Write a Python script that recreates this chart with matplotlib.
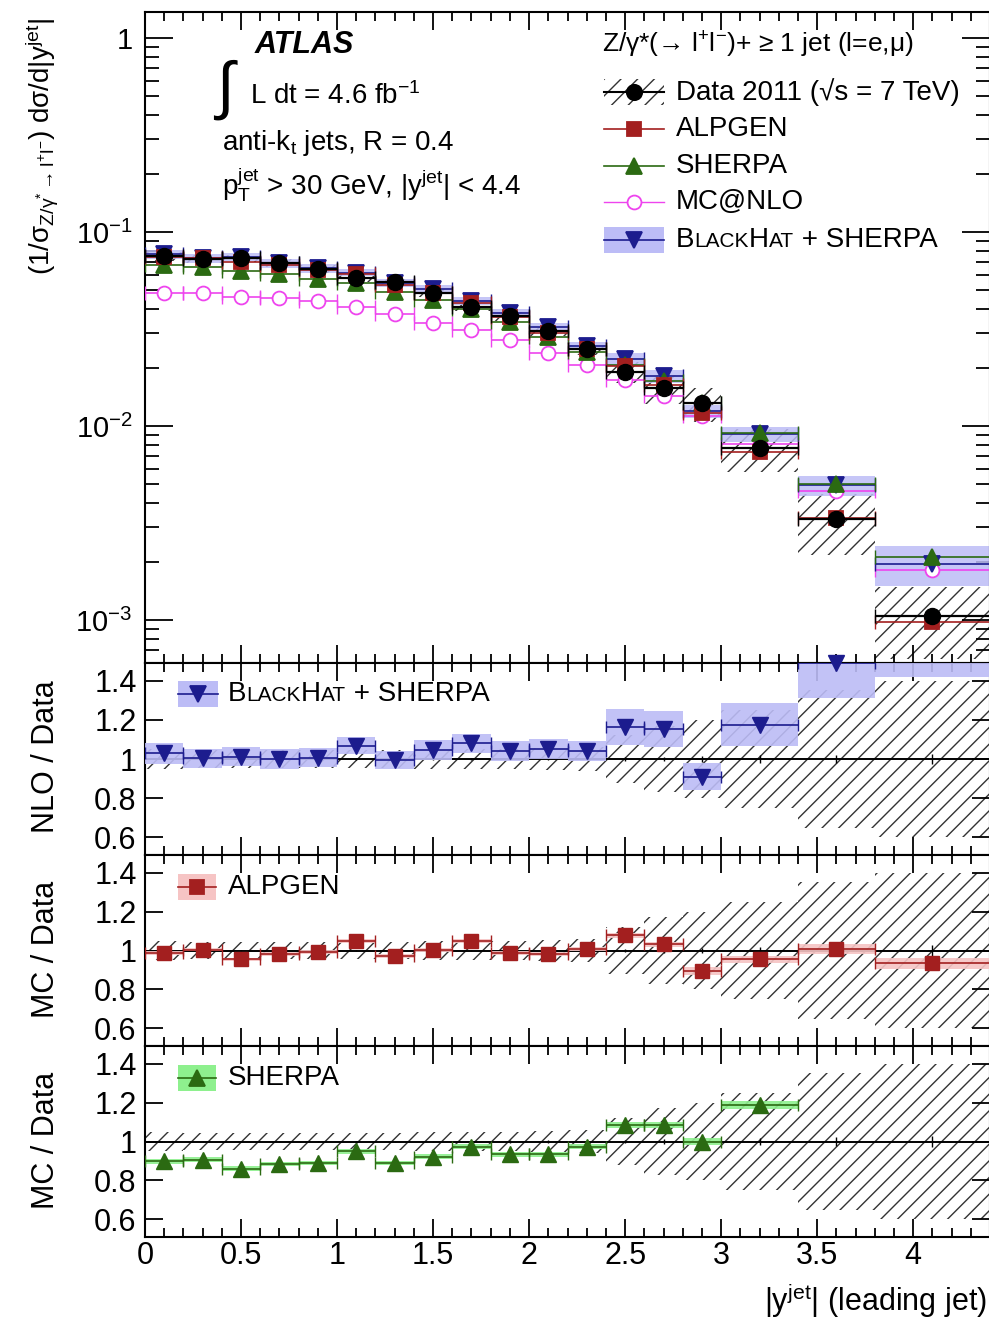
import numpy as np
import matplotlib
matplotlib.use('Agg')
import matplotlib.pyplot as plt
from matplotlib.lines import Line2D
from matplotlib.patches import Rectangle
from matplotlib.offsetbox import TextArea, HPacker, AnnotationBbox
from matplotlib.ticker import FixedLocator, MultipleLocator, FuncFormatter, LogLocator, NullFormatter

plt.rcParams['font.family'] = ['Liberation Sans', 'DejaVu Sans']
plt.rcParams['mathtext.fontset'] = 'custom'
plt.rcParams['mathtext.rm'] = 'Liberation Sans'
plt.rcParams['mathtext.it'] = 'Liberation Sans:italic'
plt.rcParams['mathtext.bf'] = 'Liberation Sans:bold'
plt.rcParams['mathtext.default'] = 'regular'
plt.rcParams['hatch.linewidth'] = 1.0

# |y| bins of the leading jet
bin_edges = [0.0, 0.2, 0.4, 0.6, 0.8, 1.0, 1.2, 1.4, 1.6, 1.8, 2.0, 2.2, 2.4,
             2.6, 2.8, 3.0, 3.4, 3.8, 4.4]

# normalised cross section, data 2011
data_xs = [0.0748, 0.0728, 0.0732, 0.0690, 0.0644, 0.0577, 0.0550, 0.0484,
           0.0410, 0.0367, 0.0308, 0.0248, 0.0190, 0.0157, 0.0131, 0.00771,
           0.00332, 0.00105]
data_err = [0.05, 0.045, 0.045, 0.045, 0.045, 0.045, 0.045, 0.05, 0.05, 0.05,
            0.055, 0.06, 0.12, 0.17, 0.20, 0.25, 0.35, 0.40]
data_stat = [0.004, 0.004, 0.004, 0.004, 0.004, 0.005, 0.005, 0.005, 0.005,
             0.006, 0.006, 0.007, 0.01, 0.012, 0.015, 0.018, 0.022, 0.028]

# predictions / data
alpgen_ratio = [0.988, 1.005, 0.954, 0.983, 0.991, 1.048, 0.974, 1.002, 1.051,
                0.988, 0.983, 1.009, 1.077, 1.031, 0.894, 0.954, 1.009, 0.934]
alpgen_unc = [0.01, 0.01, 0.01, 0.01, 0.01, 0.01, 0.01, 0.01, 0.01, 0.01,
              0.01, 0.01, 0.015, 0.015, 0.02, 0.02, 0.025, 0.03]
sherpa_ratio = [0.898, 0.906, 0.860, 0.884, 0.889, 0.949, 0.889, 0.923, 0.974,
                0.935, 0.935, 0.974, 1.085, 1.085, 1.000, 1.187, 1.52, 2.00]
sherpa_unc = [0.012, 0.012, 0.012, 0.012, 0.012, 0.012, 0.012, 0.012, 0.012,
              0.012, 0.012, 0.012, 0.015, 0.015, 0.02, 0.02, 0.025, 0.03]
blackhat_ratio = [1.029, 1.003, 1.012, 1.000, 1.007, 1.068, 0.995, 1.046, 1.080,
                  1.041, 1.051, 1.041, 1.164, 1.153, 0.910, 1.176, 1.49, 1.85]
blackhat_unc = [0.055, 0.05, 0.05, 0.05, 0.05, 0.045, 0.045, 0.05, 0.05, 0.05,
                0.05, 0.05, 0.09, 0.09, 0.07, 0.11, 0.18, 0.43]

# MC@NLO only shown in the top panel
mcnlo_xs = [0.0487, 0.0487, 0.0464, 0.0455, 0.0442, 0.0412, 0.0377, 0.0341,
            0.0313, 0.0278, 0.0238, 0.0205, 0.0173, 0.0142, 0.0112, 0.0081,
            0.0046, 0.00181]

W, H = 989, 1321
RATIO_LIM = (0.51, 1.49)

HATCH = '#333333'
RED = '#a31f1f'
RED_BAND = '#f6c4c4'
GREEN = '#2b6a12'
GREEN_BAND = '#8ef08e'
NAVY = '#1c1c8e'
BLUE_BAND = '#bcbcf6'
MAGENTA = '#ee44ee'

edges = np.array(bin_edges)
centers = 0.5 * (edges[1:] + edges[:-1])
half = 0.5 * np.diff(edges)
data = np.array(data_xs)
derr = np.array(data_err)


def fx(px):
    return px / float(W)


def fy(py):
    return 1.0 - py / float(H)


def style_axis(ax, log=False):
    for sp in ax.spines.values():
        sp.set_linewidth(1.5)
    ax.set_xlim(0, 4.4)
    ax.xaxis.set_major_locator(MultipleLocator(0.5))
    ax.xaxis.set_minor_locator(MultipleLocator(0.1))
    ax.tick_params(which='both', direction='in', top=True, right=True, width=1.3)
    ax.tick_params(axis='x', which='major', length=13)
    ax.tick_params(axis='x', which='minor', length=6.5)
    if log:
        ax.tick_params(axis='y', which='major', length=20, labelsize=21, pad=9)
        ax.tick_params(axis='y', which='minor', length=10)
    else:
        ax.tick_params(axis='y', which='major', length=13, labelsize=22, pad=6)
        ax.tick_params(axis='y', which='minor', length=0)
    ax.tick_params(axis='x', labelsize=22, pad=3)


def hatch_band(ax, lo, hi, zorder=1):
    ax.bar(centers, hi - lo, bottom=lo, width=2 * half, fill=False, hatch='//',
           edgecolor=HATCH, linewidth=0, zorder=zorder)


def draw_top(ax):
    ax.set_yscale('log')
    hatch_band(ax, data * (1 - derr), data * (1 + derr))

    bh = data * np.array(blackhat_ratio)
    bh_band = data * np.array(blackhat_unc)
    ax.bar(centers, 2 * bh_band, bottom=bh - bh_band, width=2 * half,
           color=BLUE_BAND, alpha=0.85, linewidth=0, zorder=2)

    series = [
        (np.array(mcnlo_xs), MAGENTA, 'o', 10, 'white'),
        (bh, NAVY, 'v', 11, NAVY),
        (data * np.array(sherpa_ratio), GREEN, '^', 11, GREEN),
        (data * np.array(alpgen_ratio), RED, 's', 9.5, RED),
    ]
    for vals, col, mk, ms, mfc in series:
        ax.errorbar(centers, vals, xerr=half, fmt='none', ecolor=col,
                    elinewidth=1.2, capsize=5, zorder=3)
        ax.plot(centers, vals, ls='none', marker=mk, ms=ms, color=col,
                mfc=mfc, mec=col, mew=1.3, zorder=4)

    ax.errorbar(centers, data, xerr=half, fmt='none', ecolor='black',
                elinewidth=1.6, capsize=5, zorder=5)
    ax.plot(centers, data, ls='none', marker='o', ms=11.5, color='black', zorder=6)

    ax.set_ylim(6.0e-4, 1.36)
    ax.yaxis.set_major_locator(FixedLocator([1e-3, 1e-2, 1e-1, 1.0]))
    ax.yaxis.set_minor_locator(LogLocator(base=10, subs=np.arange(2, 10)))
    ax.yaxis.set_minor_formatter(NullFormatter())
    ax.yaxis.set_major_formatter(FuncFormatter(
        lambda v, p: '1' if v == 1.0 else '10$^{%d}$' % int(round(np.log10(v)))))
    style_axis(ax, log=True)
    ax.tick_params(axis='x', labelbottom=False)


def draw_ratio(ax, ratio, unc, col, band_col, mk, ms, last=False):
    ratio = np.array(ratio)
    unc = np.array(unc)
    hatch_band(ax, 1 - derr, 1 + derr)
    ax.axhline(1.0, color='black', lw=1.4, zorder=2)
    ax.errorbar(centers, np.ones_like(centers), yerr=data_stat, fmt='none',
                ecolor='black', elinewidth=1.0, zorder=2)
    ax.bar(centers, 2 * unc, bottom=ratio - unc, width=2 * half,
           color=band_col, alpha=0.9, linewidth=0, zorder=3)
    keep = ratio <= RATIO_LIM[1]
    ax.errorbar(centers[keep], ratio[keep], xerr=half[keep], fmt='none',
                ecolor=col, elinewidth=1.2, capsize=4, zorder=4)
    ax.plot(centers[keep], ratio[keep], ls='none', marker=mk, ms=ms,
            color=col, zorder=5, clip_on=False)
    ax.set_ylim(*RATIO_LIM)
    ax.yaxis.set_major_locator(FixedLocator([0.6, 0.8, 1.0, 1.2, 1.4]))
    ax.yaxis.set_major_formatter(FuncFormatter(lambda v, p: '%g' % v))
    style_axis(ax)
    ax.xaxis.set_major_formatter(FuncFormatter(lambda v, p: '%g' % v))
    if not last:
        ax.tick_params(axis='x', labelbottom=False)


def legend_entry(fig, x0, x1, y, col, mk, ms, mfc='auto', lw=1.2,
                 band=None, band_h=13, hatch=False):
    if hatch:
        fig.add_artist(Rectangle((fx(x0), fy(y + band_h)), fx(x1) - fx(x0),
                                 fy(y - band_h) - fy(y + band_h),
                                 transform=fig.transFigure, fill=False,
                                 hatch='//', edgecolor=HATCH, linewidth=0))
    if band is not None:
        fig.add_artist(Rectangle((fx(x0), fy(y + band_h)), fx(x1) - fx(x0),
                                 fy(y - band_h) - fy(y + band_h),
                                 transform=fig.transFigure, color=band,
                                 linewidth=0))
    fig.add_artist(Line2D([fx(x0), fx(x1)], [fy(y), fy(y)], color=col, lw=lw,
                          transform=fig.transFigure))
    xm = 0.5 * (x0 + x1)
    fig.add_artist(Line2D([fx(xm)], [fy(y)], ls='none', marker=mk, ms=ms,
                          color=col, mec=col, mew=1.3,
                          mfc=col if mfc == 'auto' else mfc,
                          transform=fig.transFigure))


def blackhat_label(fig, px, py, big=20, small=15):
    parts = [('B', big), ('LACK', small), ('H', big), ('AT', small),
             (' + SHERPA', big)]
    boxes = [TextArea(s, textprops=dict(size=sz)) for s, sz in parts]
    pack = HPacker(children=boxes, align='baseline', pad=0, sep=0)
    ab = AnnotationBbox(pack, (fx(px), fy(py)), xycoords='figure fraction',
                        box_alignment=(0, 0.5), frameon=False, pad=0)
    fig.add_artist(ab)


fig = plt.figure(figsize=(W / 100.0, H / 100.0), dpi=100)
left = fx(145)
width = fx(990) - left

ax_top = fig.add_axes([left, fy(663), width, fy(12) - fy(663)])
ax_nlo = fig.add_axes([left, fy(855), width, fy(663) - fy(855)])
ax_alp = fig.add_axes([left, fy(1046), width, fy(855) - fy(1046)])
ax_she = fig.add_axes([left, fy(1237), width, fy(1046) - fy(1237)])

draw_top(ax_top)
draw_ratio(ax_nlo, blackhat_ratio, blackhat_unc, NAVY, BLUE_BAND, 'v', 11)
draw_ratio(ax_alp, alpgen_ratio, alpgen_unc, RED, RED_BAND, 's', 10)
draw_ratio(ax_she, sherpa_ratio, sherpa_unc, GREEN, GREEN_BAND, '^', 11, last=True)

# axis titles
fig.text(fx(42), fy(18), r'(1/$\sigma_{Z/\gamma^{*}\rightarrow l^{+}l^{-}}$) d$\sigma$/d|y$^{jet}$|',
         rotation=90, ha='center', va='top', fontsize=20)
fig.text(fx(46), fy(757), 'NLO / Data', rotation=90, ha='center', va='center', fontsize=22)
fig.text(fx(46), fy(949), 'MC / Data', rotation=90, ha='center', va='center', fontsize=22)
fig.text(fx(46), fy(1140), 'MC / Data', rotation=90, ha='center', va='center', fontsize=22)
fig.text(fx(987), fy(1300), '|y$^{jet}$| (leading jet)', ha='right', va='center', fontsize=22)

# labels in the top panel
fig.text(fx(255), fy(45), 'ATLAS', fontsize=22, fontweight='bold',
         fontstyle='italic', va='center')
fig.text(fx(216), fy(90), '\u222b', fontsize=46, va='center')
fig.text(fx(250), fy(96), 'L dt = 4.6 fb$^{-1}$', fontsize=20, va='center')
fig.text(fx(222), fy(143), 'anti-k$_{t}$ jets, R = 0.4', fontsize=20, va='center')
fig.text(fx(222), fy(185), 'p$_{T}^{jet}$ > 30 GeV, |y$^{jet}$| < 4.4',
         fontsize=20, va='center')

# legend of the top panel
fig.text(fx(602), fy(45), 'Z/\u03b3*(\u2192 l$^{+}$l$^{-}$)+ \u2265 1 jet (l=e,\u03bc)',
         fontsize=19, va='center')
legend_entry(fig, 604, 664, 92, 'black', 'o', 11, lw=1.5, hatch=True)
fig.text(fx(676), fy(92), 'Data 2011 (\u221as = 7 TeV)', fontsize=20, va='center')
legend_entry(fig, 604, 664, 129, RED, 's', 9.5)
fig.text(fx(676), fy(129), 'ALPGEN', fontsize=20, va='center')
legend_entry(fig, 604, 664, 166, GREEN, '^', 11)
fig.text(fx(676), fy(166), 'SHERPA', fontsize=20, va='center')
legend_entry(fig, 604, 664, 202, MAGENTA, 'o', 10, mfc='white', lw=1.0)
fig.text(fx(676), fy(202), 'MC@NLO', fontsize=20, va='center')
legend_entry(fig, 604, 664, 240, NAVY, 'v', 11, band=BLUE_BAND)
blackhat_label(fig, 676, 240)

# legends of the ratio panels
legend_entry(fig, 178, 218, 694, NAVY, 'v', 11, band=BLUE_BAND)
blackhat_label(fig, 228, 694)
legend_entry(fig, 178, 216, 887, RED, 's', 10, band=RED_BAND)
fig.text(fx(228), fy(887), 'ALPGEN', fontsize=20, va='center')
legend_entry(fig, 178, 216, 1078, GREEN, '^', 11, band=GREEN_BAND)
fig.text(fx(228), fy(1078), 'SHERPA', fontsize=20, va='center')

fig.savefig('out.png', dpi=100)
